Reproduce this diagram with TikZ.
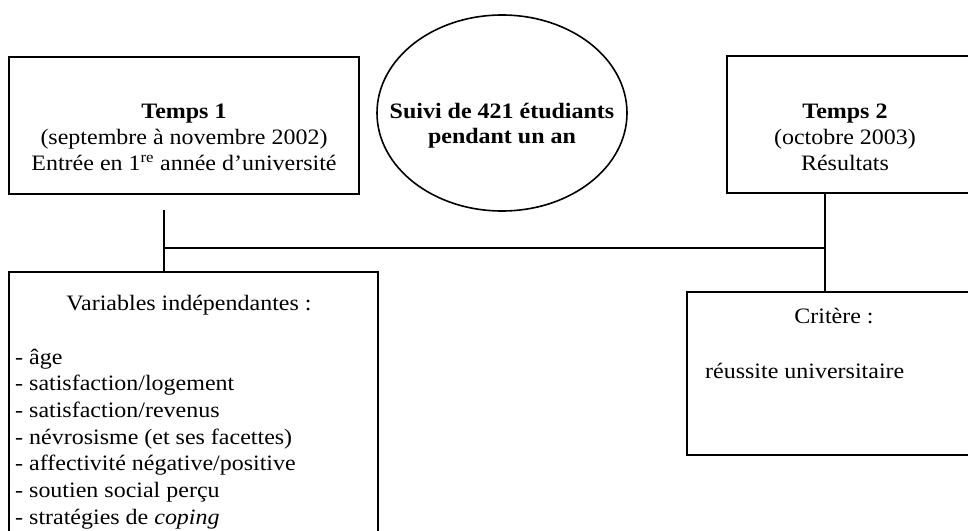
\documentclass[tikz,border=0pt]{standalone}
\usepackage{fontspec}
\setmainfont[FakeStretch=1.09]{Liberation Serif}
\usetikzlibrary{shapes.geometric}
\begin{document}
\begin{tikzpicture}[x=1pt,y=-1pt,
  box/.style={draw, line width=1.6pt, rectangle, inner sep=0pt},
  txt/.style={inner sep=0pt, anchor=base, font=\fontsize{22}{26}\selectfont},
  btxt/.style={txt, font=\fontsize{22}{26}\selectfont\bfseries},
  ltxt/.style={inner sep=0pt, anchor=base west, font=\fontsize{22}{26}\selectfont},
  conn/.style={line width=1.6pt}]
\useasboundingbox (0,0) rectangle (968,530);
\clip (0,0) rectangle (968,530);
% boxes
\node[box, minimum width=350pt, minimum height=137pt] (t1) at (184,125.5) {};
\node[box, ellipse, minimum width=250pt, minimum height=196pt] (el) at (502,113) {};
\node[box, minimum width=245pt, minimum height=137pt] (t2) at (849.5,124.5) {};
\node[box, minimum width=369pt, minimum height=300pt] (vi) at (193.5,422) {};
\node[box, minimum width=285pt, minimum height=163pt] (cr) at (829.5,373.5) {};
% texts box 1
\node[btxt] (t1a) at (184,118) {Temps 1};
\node[txt] (t1b) at (184,144) {(septembre à novembre 2002)};
\node[txt] (t1c) at (184,170) {Entrée en 1\textsuperscript{re} année d’université};
% ellipse
\node[btxt] (ela) at (502,118) {Suivi de 421 étudiants};
\node[btxt] (elb) at (502,143) {pendant un an};
% box 2
\node[btxt] (t2a) at (845,118) {Temps 2};
\node[txt] (t2b) at (845,144) {(octobre 2003)};
\node[txt] (t2c) at (845,170) {Résultats};
% box 3
\node[txt] (via) at (189,310) {Variables indépendantes :};
\node[ltxt] (v1) at (15,364) {- âge};
\node[ltxt] (v2) at (15,390.7) {- satisfaction/logement};
\node[ltxt] (v3) at (15,417.4) {- satisfaction/revenus};
\node[ltxt] (v4) at (15,444.1) {- névrosisme (et ses facettes)};
\node[ltxt] (v5) at (15,470.8) {- affectivité négative/positive};
\node[ltxt] (v6) at (15,497.5) {- soutien social perçu};
\node[ltxt] (v7) at (15,524.2) {- stratégies de \textit{coping}};
% box 4
\node[txt] (cra) at (834,323) {Critère :};
\node[ltxt] (crb) at (705,378) {réussite universitaire};
% connectors
\coordinate (j1) at (164,210);
\coordinate (j2) at (164,248);
\coordinate (j3) at (825,248);
\draw[conn] (j1) -- (j1 |- vi.north);
\draw[conn] (j2) -- (j3);
\draw[conn] (j3 |- t2.south) -- (j3 |- cr.north);
\end{tikzpicture}
\end{document}
